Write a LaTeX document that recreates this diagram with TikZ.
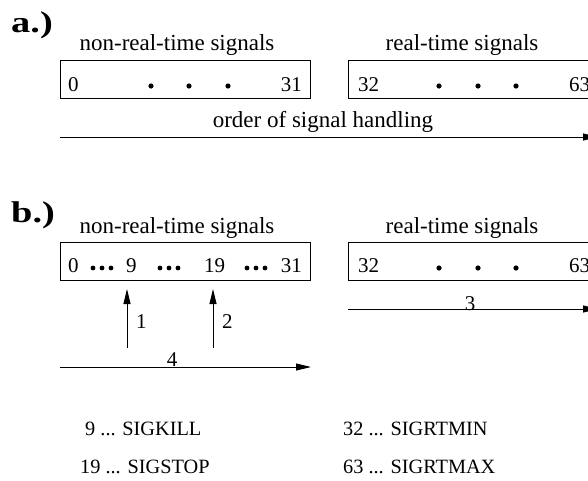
\documentclass[tikz,border=0pt]{standalone}
\usepackage{fontspec}
\setmainfont{Liberation Serif}
\usetikzlibrary{arrows.meta}

\tikzset{
  sigbox/.style={draw, line width=0.9pt, minimum width=250pt, minimum height=38pt, inner sep=0pt},
  num/.style={inner sep=0pt, font=\fontsize{21}{24}\selectfont},
  grouplabel/.style={inner sep=0pt, font=\fontsize{23}{26}\selectfont, anchor=base},
  partlabel/.style={inner sep=0pt, font=\fontsize{30}{34}\selectfont\bfseries, anchor=base west},
  legend/.style={inner sep=0pt, font=\fontsize{20.3}{24}\selectfont, anchor=base west},
  flow/.style={line width=0.9pt, -{Triangle[length=15pt,width=7pt]}},
  bigdot/.style={fill=black, draw=none},
}
\newcommand{\partmark}[1]{\scalebox{1.28}[1]{#1}}

\begin{document}
\begin{tikzpicture}[x=1pt, y=-1pt]
\useasboundingbox (0,0) rectangle (588,480);
\clip (0,0) rectangle (588,480);

% ---------------- part a ----------------
\node[partlabel] (la) at (11,32) {\partmark{a.)}};

\node[grouplabel] (nrtA) at (177,50) {non-real-time signals};
\node[grouplabel] (rtA)  at (462,50) {real-time signals};

\node[sigbox] (boxA1) at (185,79) {};
\node[sigbox] (boxA2) at (473,79) {};

\node[num, anchor=base west] (a0)  at (68,91)  {0};
\node[num, anchor=base east] (a31) at (302,91) {31};
\node[num, anchor=base west] (a32) at (358,91) {32};
\node[num, anchor=base west] (a63) at (569,91) {63};

\foreach \x in {151,189,228,439,478,516}
  \fill[bigdot] (\x,86) circle (2.6pt);

\node[grouplabel] (orderA) at (323,127) {order of signal handling};
\coordinate (orderStart) at (60,137);
\coordinate (orderEnd)   at (598,137);
\draw[flow] (orderStart) -- (orderEnd);

% ---------------- part b ----------------
\node[partlabel] (lb) at (11,222) {\partmark{b.)}};

\node[grouplabel] (nrtB) at (177,233) {non-real-time signals};
\node[grouplabel] (rtB)  at (462,233) {real-time signals};

\node[sigbox] (boxB1) at (185,261) {};
\node[sigbox] (boxB2) at (473,261) {};

\node[num, anchor=base west] (b0)  at (68,272)  {0};
\node[num, anchor=base west] (b9)  at (126,272) {9};
\node[num, anchor=base west] (b19) at (204,272) {19};
\node[num, anchor=base east] (b31) at (302,272) {31};
\node[num, anchor=base west] (b32) at (358,272) {32};
\node[num, anchor=base west] (b63) at (569,272) {63};

% small dot groups between the signal numbers
\foreach \x in {93,102,111,160,169,178,247,256,265}
  \fill[bigdot] (\x,268) circle (2.4pt);
\foreach \x in {439,478,516}
  \fill[bigdot] (\x,268) circle (2.6pt);

% step 1 and 2: the two arrows pointing at SIGKILL and SIGSTOP
\coordinate (s1from) at (127,348);
\coordinate (s1to)   at (127,289);
\coordinate (s2from) at (213,348);
\coordinate (s2to)   at (213,289);
\draw[flow] (s1from) -- (s1to);
\draw[flow] (s2from) -- (s2to);
\node[num, anchor=west] (n1) at (136,322) {1};
\node[num, anchor=west] (n2) at (222,322) {2};

% step 3: real-time signals
\coordinate (s3from) at (348,309);
\coordinate (s3to)   at (598,309);
\draw[flow] (s3from) -- (s3to);
\node[num, anchor=base] (n3) at (470,310) {3};

% step 4: the remaining non-real-time signals
\coordinate (s4from) at (60,367);
\coordinate (s4to)   at (311,367);
\draw[flow] (s4from) -- (s4to);
\node[num, anchor=base] (n4) at (172,366) {4};

% ---------------- legend ----------------
\node[legend] (kill)  at (85,435)  {9 ... SIGKILL};
\node[legend] (stop)  at (80,473)  {19 ... SIGSTOP};
\node[legend] (rtmin) at (343,435) {32 ... SIGRTMIN};
\node[legend] (rtmax) at (343,473) {63 ... SIGRTMAX};
\end{tikzpicture}
\end{document}
